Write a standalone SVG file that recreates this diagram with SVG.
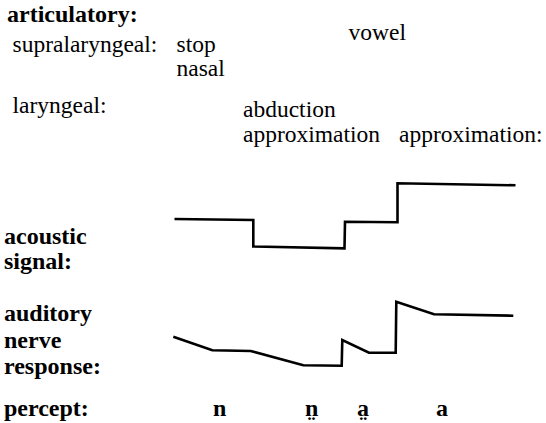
<svg xmlns="http://www.w3.org/2000/svg" width="546" height="423" viewBox="0 0 546 423">
<style>
  .b { font-weight: bold; font-size: 24px; fill: #000; }
  .r { font-size: 23.5px; fill: #000; }
  .trace { fill: none; stroke: #000; stroke-width: 2.6; stroke-linejoin: miter; stroke-linecap: butt; }
</style>
<rect width="546" height="423" fill="#fff"/>
<g font-family="Liberation Serif, Tinos, Times New Roman, Noto Serif, DejaVu Serif, FreeSerif, serif">
<g id="articulatory">
  <text class="b" x="7" y="22">articulatory:</text>
  <text class="r" x="12.5" y="52">supralaryngeal:</text>
  <text class="r" x="176.5" y="52">stop</text>
  <text class="r" x="176.5" y="76">nasal</text>
  <text class="r" x="348.5" y="40">vowel</text>
  <text class="r" x="12.5" y="113">laryngeal:</text>
  <text class="r" x="243" y="117">abduction</text>
  <text class="r" x="243" y="142">approximation</text>
  <text class="r" x="399" y="142">approximation:</text>
</g>
<g id="acoustic">
  <text class="b" x="4" y="244">acoustic</text>
  <text class="b" x="4" y="269">signal:</text>
</g>
<g id="auditory">
  <text class="b" x="4" y="321">auditory</text>
  <text class="b" x="4" y="348">nerve</text>
  <text class="b" x="4" y="374">response:</text>
</g>
<g id="percept">
  <text class="b" x="4" y="416">percept:</text>
  <text class="b" x="213" y="416">n</text>
  <text class="b" x="305" y="416">n̤</text>
  <text class="b" x="357" y="416">a̤</text>
  <text class="b" x="436" y="416">a</text>
</g>
</g>
<g id="connectors">
  <polyline id="acoustic-trace" class="trace" points="174.5,219 253.3,220 253.3,246.5 344.5,248.3 345,221.7 397.5,222.3 397.5,183.3 515.5,185.3"/>
  <polyline id="auditory-trace" class="trace" points="173.3,336.7 212.3,350.3 250.7,351 303.3,365.3 341.7,365.7 342.3,340 369,352.7 395.7,352.7 396.3,301.7 434,314.3 513.3,315.7"/>
</g>
</svg>
